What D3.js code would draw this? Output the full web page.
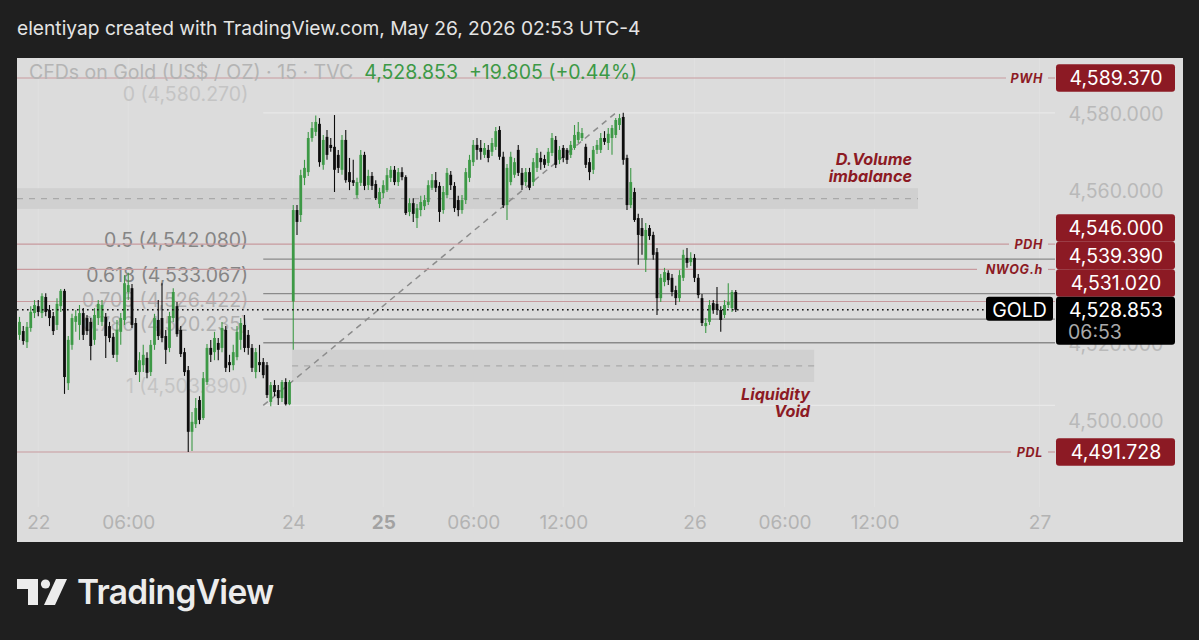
<!DOCTYPE html>
<html><head><meta charset="utf-8">
<script src="https://cdn.jsdelivr.net/npm/d3@7"></script>
<style>
html,body{margin:0;padding:0;background:#1f1f1f;overflow:hidden;}
svg{display:block;}
text{font-family:Inter,Roboto,"Noto Sans",sans-serif;white-space:pre;}
</style></head><body>
<svg id="c" width="1199" height="640"></svg>
<script>
// ---------- DATA ----------
// 15-minute candles: [open, high, low, close]
const candles = [
[4522.3,4527.0,4521.0,4525.7],[4523.3,4524.6,4519.7,4520.7],[4520.4,4525.7,4518.9,4524.4],[4524.1,4529.8,4523.1,4528.3],
[4528.0,4531.4,4526.7,4530.1],[4529.8,4531.4,4527.2,4528.3],[4528.0,4533.2,4526.7,4532.4],[4532.2,4533.2,4527.2,4528.3],
[4528.8,4530.1,4524.6,4526.7],[4527.2,4528.3,4522.3,4523.3],[4524.9,4531.9,4523.6,4530.4],[4529.8,4534.3,4528.3,4533.8],
[4533.8,4534.3,4506.9,4511.3],[4509.7,4522.0,4507.9,4521.0],[4519.7,4527.8,4518.4,4526.7],[4525.7,4528.8,4523.1,4527.2],
[4524.9,4530.1,4521.0,4528.0],[4528.0,4529.3,4521.0,4522.3],[4526.7,4527.5,4522.3,4523.3],[4525.7,4526.7,4515.7,4519.4],
[4521.0,4529.3,4519.7,4527.5],[4526.7,4531.4,4524.9,4530.4],[4525.7,4531.4,4524.6,4530.1],[4527.0,4528.0,4516.3,4522.0],
[4524.6,4525.7,4520.4,4521.5],[4521.8,4522.8,4516.3,4517.1],[4517.1,4526.2,4515.2,4523.6],[4523.1,4528.0,4519.7,4526.7],
[4526.2,4537.9,4524.9,4535.8],[4533.5,4538.5,4531.4,4535.3],[4534.5,4535.6,4524.1,4524.9],[4525.4,4526.7,4511.8,4512.6],
[4512.6,4517.8,4510.0,4515.7],[4514.4,4519.7,4512.6,4517.1],[4516.3,4517.8,4511.0,4512.4],[4512.6,4521.0,4511.6,4519.7],
[4519.7,4527.8,4518.4,4526.7],[4526.2,4531.4,4521.0,4522.0],[4526.7,4535.8,4520.4,4521.5],[4522.0,4523.6,4514.7,4518.4],
[4518.9,4528.3,4517.8,4527.2],[4526.7,4534.5,4525.7,4533.5],[4529.8,4530.9,4521.8,4522.5],[4523.6,4524.6,4516.5,4517.3],
[4517.8,4518.9,4511.6,4512.6],[4513.1,4514.2,4491.73,4497.0],[4497.0,4502.2,4492.0,4499.6],[4499.0,4505.8,4498.0,4503.2],
[4505.3,4506.3,4499.0,4500.1],[4500.6,4512.6,4500.1,4511.0],[4510.0,4519.9,4509.2,4518.9],[4518.9,4521.0,4515.2,4517.1],
[4517.8,4523.1,4515.7,4521.5],[4520.2,4521.5,4515.7,4518.4],[4518.9,4525.7,4517.8,4524.1],[4523.6,4524.6,4512.6,4513.7],
[4515.2,4517.1,4512.6,4514.4],[4514.4,4519.7,4513.1,4517.8],[4516.5,4524.6,4515.7,4523.1],[4521.0,4526.7,4518.4,4525.4],
[4524.9,4527.5,4517.8,4518.9],[4522.3,4523.6,4517.1,4518.9],[4518.9,4519.9,4512.6,4513.7],[4512.6,4518.9,4511.0,4517.8],
[4515.2,4519.7,4512.6,4514.4],[4515.2,4516.3,4511.0,4511.8],[4514.4,4515.2,4505.8,4506.6],[4504.8,4510.0,4503.7,4509.2],
[4509.2,4510.5,4506.3,4507.4],[4507.9,4509.2,4504.0,4505.8],[4505.8,4510.5,4504.8,4510.0],[4510.0,4511.0,4503.89,4504.2],
[4504.2,4510.5,4503.95,4510.0],
[4531.02,4556.2,4518.4,4554.9],[4554.9,4556.2,4548.4,4551.8],[4553.6,4565.4,4551.8,4564.0],[4563.3,4568.0,4561.4,4565.9],
[4564.8,4575.3,4563.8,4573.7],[4573.7,4577.9,4572.7,4576.3],[4575.3,4579.6,4574.2,4577.9],[4577.4,4578.9,4566.2,4567.4],
[4566.7,4574.5,4565.4,4573.2],[4574.0,4575.8,4568.0,4569.3],[4571.9,4573.7,4570.1,4571.1],[4571.4,4579.7,4559.6,4565.4],
[4569.3,4570.6,4564.6,4565.9],[4565.4,4574.5,4564.1,4573.2],[4573.2,4575.8,4562.0,4562.7],[4564.8,4568.5,4560.1,4562.2],
[4562.7,4568.0,4561.2,4562.0],[4558.8,4563.3,4558.0,4562.2],[4562.0,4570.6,4561.2,4569.3],[4569.3,4570.1,4560.1,4561.2],
[4561.4,4565.4,4560.1,4563.8],[4563.8,4564.8,4560.1,4561.2],[4561.7,4562.7,4557.5,4558.0],[4556.5,4560.7,4555.4,4559.6],
[4559.3,4562.7,4558.0,4561.4],[4560.1,4565.9,4559.6,4564.0],[4563.3,4566.4,4562.2,4565.4],[4565.4,4566.4,4561.4,4562.2],
[4562.2,4565.9,4561.2,4564.8],[4564.8,4566.1,4562.7,4563.5],[4563.5,4564.0,4553.6,4554.1],[4554.4,4558.0,4553.3,4556.7],
[4556.7,4558.0,4551.8,4553.9],[4552.8,4556.5,4550.2,4555.4],[4554.9,4558.6,4553.3,4557.0],[4555.9,4558.8,4554.9,4557.5],
[4557.0,4562.7,4556.2,4561.4],[4560.7,4564.3,4560.1,4562.7],[4562.7,4564.8,4559.6,4560.7],[4561.2,4562.2,4551.8,4554.4],
[4554.9,4561.2,4553.9,4559.6],[4558.8,4565.9,4558.0,4564.6],[4564.1,4565.1,4560.1,4561.4],[4561.2,4562.2,4554.4,4555.4],
[4557.5,4558.6,4553.3,4554.9],[4554.9,4558.8,4553.9,4557.5],[4557.5,4565.9,4556.5,4564.8],[4563.3,4569.3,4562.2,4568.0],
[4567.4,4573.2,4566.4,4571.9],[4571.9,4573.7,4568.0,4570.6],[4571.1,4573.2,4568.0,4570.1],[4569.3,4572.4,4568.5,4571.1],
[4570.6,4571.9,4567.4,4568.5],[4570.1,4573.7,4569.0,4572.4],[4571.4,4576.6,4570.6,4575.5],[4575.8,4576.8,4568.0,4568.8],
[4568.8,4570.1,4555.4,4556.2],[4556.2,4566.9,4552.3,4565.9],[4562.2,4570.1,4561.4,4568.8],[4564.1,4568.5,4563.3,4567.4],
[4570.6,4571.9,4563.8,4564.6],[4564.6,4565.9,4560.1,4561.4],[4562.2,4565.9,4561.2,4564.8],[4564.8,4565.9,4560.1,4560.7],
[4562.2,4568.5,4561.2,4567.4],[4565.9,4571.1,4564.8,4569.8],[4568.5,4570.1,4565.4,4567.4],[4568.2,4569.3,4565.9,4566.7],
[4567.2,4571.1,4566.4,4570.1],[4569.8,4575.0,4569.0,4573.7],[4573.2,4574.2,4565.9,4566.7],[4568.0,4571.6,4566.9,4570.6],
[4571.1,4571.9,4567.4,4568.5],[4570.6,4571.1,4566.9,4568.0],[4569.3,4572.9,4568.5,4571.9],[4571.1,4577.1,4570.6,4574.5],
[4573.2,4577.9,4572.4,4575.3],[4573.7,4576.3,4572.9,4575.0],[4571.4,4572.2,4565.9,4566.7],[4567.4,4568.5,4562.7,4564.8],
[4565.4,4571.6,4564.3,4570.6],[4570.6,4573.2,4569.5,4571.9],[4570.6,4575.0,4569.8,4573.7],[4573.7,4575.5,4571.9,4572.7],
[4572.4,4576.3,4570.6,4574.8],[4573.7,4577.1,4569.3,4576.3],[4574.5,4578.9,4573.7,4578.4],[4577.1,4580.0,4575.8,4578.9],
[4579.2,4580.27,4566.7,4568.0],[4568.5,4569.3,4554.9,4556.2],[4556.2,4565.9,4555.4,4562.2],[4559.6,4560.7,4551.8,4552.3],
[4552.8,4553.9,4540.6,4548.4],[4550.2,4552.8,4543.2,4548.1],[4541.9,4551.5,4538.7,4549.7],[4550.2,4551.0,4547.1,4548.1],
[4548.4,4549.2,4541.9,4543.2],[4543.9,4545.0,4527.5,4531.9],[4531.9,4538.2,4530.9,4537.2],[4536.1,4539.8,4535.0,4538.7],
[4538.5,4539.2,4535.3,4536.6],[4537.2,4538.2,4532.4,4533.5],[4534.0,4535.1,4530.1,4531.9],[4531.9,4539.2,4530.9,4537.9],
[4537.2,4544.5,4536.4,4543.2],[4542.4,4545.0,4539.8,4541.1],[4541.3,4543.9,4540.3,4542.4],[4542.4,4543.4,4536.1,4537.2],
[4537.2,4538.2,4531.9,4532.7],[4531.9,4533.0,4524.6,4525.4],[4524.6,4526.7,4522.8,4525.4],[4525.7,4531.4,4524.9,4530.1],
[4530.6,4531.4,4527.8,4528.8],[4530.4,4534.8,4527.5,4528.8],[4528.8,4529.8,4523.1,4526.2],[4527.5,4531.4,4526.7,4530.1],
[4530.1,4535.8,4529.3,4530.9],[4529.3,4534.0,4528.3,4533.5],[4533.5,4534.0,4528.3,4528.853]
];
const timeTickIdx = [5, 29, 73, 97, 121, 145, 180, 204, 228, 272];
const timeTickLabels = ["22", "06:00", "24", "25", "06:00", "12:00", "26", "06:00", "12:00", "27"];
const boldTimeLabels = ["25"];
const priceTicks = [4500, 4520, 4540, 4560, 4580];

const levelNames  = ["PWH", "PDH", "NWOG.h", "", "PDL"];
const levelPrices = [4589.370, 4546.000, 4539.390, 4531.020, 4491.728];

const fibRatios = [0, 0.5, 0.618, 0.705, 0.786, 1];
const fibHigh = 4580.270, fibLow = 4503.890;
const fibStartIdx = 65, fibEndIdx = 159;

const zoneNames   = [["D.Volume", "imbalance"], ["Liquidity", "Void"]];
const zoneTop     = [4560.6, 4518.4];
const zoneBottom  = [4555.2, 4510.0];
const zoneFromIdx = [-20, 72.7];
const zoneToIdx   = [239.6, 211.9];

const symbolTitle = "CFDs on Gold (US$ / OZ) · 15 · TVC";
const lastPrice = 4528.853, change = 19.805, changePct = 0.44;
const countdown = "06:53";
const headerText = "elentiyap created with TradingView.com, May 26, 2026 02:53 UTC-4";

// ---------- LAYOUT ----------
const FS = 19.5;
const svg = d3.select("#c");
const P = {l: 17, t: 58, r: 1183, b: 542, axisX: 1055, plotB: 507};
const x = d3.scaleLinear().domain([0, 272]).range([19.5, 1039.5]);
const y = d3.scaleLinear().domain([4491.728, 4589.37]).range([452, 78]);
const fmt = d3.format(",.3f");
const GREEN = "#3d9946", BLACK = "#0d0d0d", RED = "#8c1a24", LVL = "#c79a9e";

svg.append("text").attr("x", 17).attr("y", 35).attr("fill", "#e4e4e4")
  .attr("font-size", 19.2).text(headerText);

svg.append("rect").attr("x", P.l).attr("y", P.t).attr("width", P.r - P.l).attr("height", P.b - P.t).attr("fill", "#dcdcdc");

const defs = svg.append("defs");
defs.append("clipPath").attr("id", "plot").append("rect")
  .attr("x", P.l).attr("y", P.t).attr("width", P.axisX - P.l).attr("height", P.plotB - P.t);

const g = svg.append("g").attr("clip-path", "url(#plot)");

// vertical faint grid
g.selectAll(".vg").data(timeTickIdx).join("line")
  .attr("x1", d => x(d)).attr("x2", d => x(d)).attr("y1", P.t).attr("y2", P.plotB)
  .attr("stroke", "#e0e0e0").attr("stroke-width", 1);

// zones
zoneNames.forEach((nm, k) => {
  const x0 = Math.max(P.l, x(zoneFromIdx[k])), x1 = x(zoneToIdx[k]);
  g.append("rect").attr("x", x0).attr("y", y(zoneTop[k])).attr("width", x1 - x0)
    .attr("height", y(zoneBottom[k]) - y(zoneTop[k])).attr("fill", "#d0d0d0");
  const mid = (zoneTop[k] + zoneBottom[k]) / 2;
  g.append("line").attr("x1", x0).attr("x2", x1).attr("y1", y(mid)).attr("y2", y(mid))
    .attr("stroke", "#a9a9a9").attr("stroke-width", 1.3).attr("stroke-dasharray", "6,6");
});

// fib labels (behind candles)
const fibPrice = r => fibHigh - r * (fibHigh - fibLow);
const fibColor = r => (r === 0.5 || r === 0.618) ? "#858585" : (r === 0 || r === 1) ? "#c4c4c4" : "#b0b0b0";
g.selectAll(".fibt").data(fibRatios).join("text")
  .attr("x", x(fibStartIdx) - 15).attr("y", d => y(fibPrice(d)) - 12)
  .attr("text-anchor", "end").attr("font-size", FS).attr("fill", fibColor)
  .text(d => `${d} (${fmt(fibPrice(d))})`);

// fib lines
g.selectAll(".fibl").data(fibRatios).join("line")
  .attr("x1", x(fibStartIdx)).attr("x2", P.axisX)
  .attr("y1", d => y(fibPrice(d))).attr("y2", d => y(fibPrice(d)))
  .attr("stroke", d => (d === 0 || d === 1) ? "#e8e8e8" : "#8a8a8a").attr("stroke-width", 1.4);
g.append("line").attr("x1", x(fibStartIdx)).attr("y1", y(fibLow)).attr("x2", x(fibEndIdx)).attr("y2", y(fibHigh))
  .attr("stroke", "#8c8c8c").attr("stroke-width", 1.5).attr("stroke-dasharray", "6,5");

// level lines
const lvlEnd = [1006, 1009, 977, P.axisX, 1011];
levelPrices.forEach((p, k) => {
  g.append("line").attr("x1", P.l).attr("x2", lvlEnd[k]).attr("y1", y(p)).attr("y2", y(p))
    .attr("stroke", LVL).attr("stroke-width", 1.2);
  if (levelNames[k]) {
    g.append("line").attr("x1", 1048).attr("x2", P.axisX).attr("y1", y(p)).attr("y2", y(p))
      .attr("stroke", LVL).attr("stroke-width", 1.2);
    g.append("text").attr("x", 1043).attr("y", y(p) + 4.6).attr("text-anchor", "end")
      .attr("font-size", 12.5).attr("font-weight", 700).attr("font-style", "italic")
      .attr("fill", RED).attr("letter-spacing", 0.7).text(levelNames[k]);
  }
});

// zone labels
const zoneLabelX = [912, 810];
const zoneLabelY = [165, 400];
zoneNames.forEach((nm, k) => {
  nm.forEach((t, j) => {
    g.append("text").attr("x", zoneLabelX[k]).attr("y", zoneLabelY[k] + j * 16.5)
      .attr("text-anchor", "end").attr("font-size", 16.2).attr("font-weight", 700)
      .attr("font-style", "italic").attr("fill", RED).text(t);
  });
});

// candles
const cg = g.append("g");
const col = d => d[3] >= d[0] ? GREEN : BLACK;
cg.selectAll(".w").data(candles).join("line")
  .attr("x1", (d, i) => x(i)).attr("x2", (d, i) => x(i))
  .attr("y1", d => y(d[1])).attr("y2", d => y(d[2]))
  .attr("stroke", col).attr("stroke-width", 1.1);
cg.selectAll(".b").data(candles).join("rect")
  .attr("x", (d, i) => x(i) - 1.4).attr("width", 2.8)
  .attr("y", d => y(Math.max(d[0], d[3])))
  .attr("height", d => Math.max(1, Math.abs(y(d[0]) - y(d[3]))))
  .attr("fill", col);

// current price dotted line
g.append("line").attr("x1", P.l).attr("x2", 986).attr("y1", y(lastPrice)).attr("y2", y(lastPrice))
  .attr("stroke", "#111").attr("stroke-width", 1.6).attr("stroke-dasharray", "1.6,3.4");

// title / legend
const tt = svg.append("text").attr("x", 29).attr("y", 79).attr("font-size", FS);
tt.append("tspan").attr("fill", "#b4b4b4").text(symbolTitle + "  ");
tt.append("tspan").attr("fill", "#3d9946")
  .text(`${fmt(lastPrice)}  +${change.toFixed(3)} (+${changePct.toFixed(2)}%)`);

// price axis
const yAxis = d3.axisRight(y).tickValues(priceTicks).tickFormat(fmt).tickSize(0).tickPadding(0);
const ya = svg.append("g").attr("transform", `translate(1116,0)`).call(yAxis);
ya.select(".domain").remove();
ya.selectAll("text").attr("text-anchor", "middle").attr("font-size", FS)
  .attr("fill", "#b9b9b9").attr("font-family", "Inter,Roboto,sans-serif").attr("dy", "0.35em");

// time axis
const xAxis = d3.axisBottom(x).tickValues(timeTickIdx)
  .tickFormat((d, i) => timeTickLabels[i]).tickSize(0).tickPadding(0);
const xa = svg.append("g").attr("transform", `translate(0,522)`).call(xAxis);
xa.select(".domain").remove();
xa.selectAll("text").attr("font-size", 19).attr("font-family", "Inter,Roboto,sans-serif").attr("dy", "0.35em")
  .attr("font-weight", (d, i) => boldTimeLabels.includes(timeTickLabels[i]) ? 700 : 400)
  .attr("fill", (d, i) => boldTimeLabels.includes(timeTickLabels[i]) ? "#a2a2a2" : "#b3b3b3");

// right price labels with stacking
const boxH = 27.5;
const curTop = y(lastPrice) - 13;
const stacked = levelPrices.map((p, k) => ({p, k, cy: y(p)}));
const above = stacked.filter(d => d.cy < curTop + 20 && d.cy > curTop - 100).sort((a, b) => b.cy - a.cy);
let limit = curTop;
above.forEach(d => { if (d.cy + boxH / 2 > limit) d.cy = limit - boxH / 2; limit = d.cy - boxH / 2; });
stacked.forEach(d => {
  svg.append("rect").attr("x", 1056).attr("y", d.cy - boxH / 2).attr("width", 119).attr("height", boxH)
    .attr("rx", 3).attr("fill", RED);
  svg.append("text").attr("x", 1116).attr("y", d.cy).attr("dy", "0.36em").attr("text-anchor", "middle")
    .attr("font-size", FS).attr("fill", "#ffffff").text(fmt(d.p));
});
// current price box
svg.append("rect").attr("x", 1056).attr("y", curTop).attr("width", 119).attr("height", 48).attr("rx", 3).attr("fill", "#000");
svg.append("text").attr("x", 1116).attr("y", y(lastPrice)).attr("dy", "0.36em").attr("text-anchor", "middle")
  .attr("font-size", FS).attr("fill", "#fff").text(fmt(lastPrice));
svg.append("text").attr("x", 1068).attr("y", y(lastPrice) + 22).attr("dy", "0.36em")
  .attr("font-size", FS).attr("fill", "#a9a9a9").text(countdown);
svg.append("rect").attr("x", 986).attr("y", curTop).attr("width", 67).attr("height", 24).attr("rx", 3).attr("fill", "#000");
svg.append("text").attr("x", 1019.5).attr("y", y(lastPrice)).attr("dy", "0.36em").attr("text-anchor", "middle")
  .attr("font-size", FS).attr("fill", "#fff").text("GOLD");

// TradingView logo
const lg = svg.append("g").attr("fill", "#ececec");
lg.append("path").attr("d", "M17,579 H38 V605 H28 V589 H17 Z");
lg.append("circle").attr("cx", 45.5).attr("cy", 584).attr("r", 4.6);
lg.append("path").attr("d", "M56,579 H67 L55,605 H44 Z");
svg.append("text").attr("x", 77).attr("y", 604).attr("font-size", 33.5).attr("font-weight", 600)
  .attr("fill", "#ececec").attr("letter-spacing", -0.7).text("TradingView");
</script>
</body></html>
